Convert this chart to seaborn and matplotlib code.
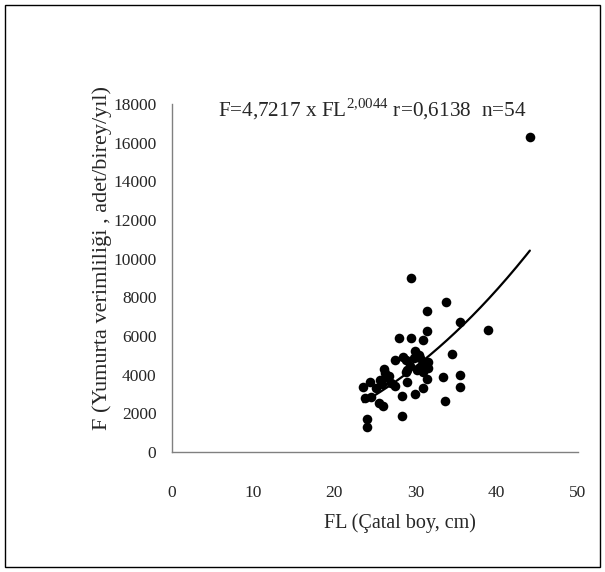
import numpy as np
import pandas as pd
import matplotlib
matplotlib.use("Agg")
import matplotlib.pyplot as plt
import seaborn as sns
from matplotlib.patches import Rectangle

# FL (fork length, cm) and F (fecundity)
fl = [44.1, 29.5, 33.8, 31.4, 35.5, 39.0, 31.4, 28.0, 29.5, 31.0,
      34.5, 30.0, 30.4, 28.5, 27.5, 29.8, 30.6, 31.5, 26.1, 29.0,
      30.6, 31.5, 26.5, 31.4, 33.4, 35.5, 35.5, 23.6, 24.4, 25.9,
      27.5, 29.0, 30.9, 30.0, 28.3, 23.8, 24.6, 25.5, 26.0, 33.7,
      28.4, 24.0, 24.0, 26.3, 28.8, 30.2, 25.6, 27.0, 29.3, 31.0,
      26.8, 30.8, 28.9, 25.2]
f = [16300, 9000, 7750, 7300, 6720, 6300, 6270, 5880, 5880, 5790,
     5050, 5240, 5020, 4900, 4760, 4880, 4850, 4670, 4300, 4240,
     4330, 4330, 3900, 3760, 3860, 3980, 3380, 3380, 3620, 3500,
     3420, 3600, 3290, 3000, 2880, 2780, 2860, 2550, 2380, 2650,
     1880, 1700, 1310, 4100, 4150, 4250, 3700, 3550, 4450, 4150,
     3950, 4450, 4750, 3300]

x_ticks = [0, 10, 20, 30, 40, 50]
y_ticks = list(range(0, 18001, 2000))

# power trendline as it is drawn in the picture (F = a * FL^b)
trend_a = 2.2
trend_b = 2.235

df = pd.DataFrame({"FL": fl, "F": f})
xs = np.linspace(df["FL"].min(), df["FL"].max(), 200)
trend = pd.DataFrame({"FL": xs, "F": trend_a * xs ** trend_b})

sns.set_style("white")
plt.rcParams["font.family"] = ["Liberation Serif", "DejaVu Serif"]
plt.rcParams["mathtext.fontset"] = "custom"
plt.rcParams["mathtext.rm"] = "Liberation Serif"

fig = plt.figure(figsize=(6.05, 5.72), dpi=100)
ax = fig.add_axes([0.2838, 0.2098, 0.6712, 0.6084])

sns.scatterplot(data=df, x="FL", y="F", color="black", s=48,
                edgecolor="black", linewidth=0, ax=ax, zorder=3)
sns.lineplot(data=trend, x="FL", y="F", color="black", linewidth=1.6,
             ax=ax, zorder=2)

ax.set_xlim(0, 50)
ax.set_ylim(0, 18000)
ax.set_xticks(x_ticks)
ax.set_yticks(y_ticks)
ax.tick_params(axis="both", direction="out", length=5, width=1,
               color="#808080", labelsize=12.5)
ax.tick_params(axis="y", pad=6)
ax.tick_params(axis="x", pad=19)
ax.set_xlabel("")
ax.set_ylabel("")
sns.despine(ax=ax)
for side in ["left", "bottom"]:
    ax.spines[side].set_color("#808080")
    ax.spines[side].set_linewidth(1)

fig.text(0.661, 0.0857, "FL (Çatal boy, cm)", ha="center", va="center",
         fontsize=14.5)
fig.text(0.169, 0.549, "F (Yumurta verimliliği , adet/birey/yıl)",
         ha="center", va="center", rotation=90, fontsize=16)
fig.text(0.361, 0.797,
         r"F=4,7217 x FL$^{\mathrm{2{,}0044}}$ r=0,6138  n=54",
         ha="left", va="baseline", fontsize=15.3)

# outer frame
fig.patches.append(Rectangle((0.008, 0.008), 0.984, 0.984,
                             transform=fig.transFigure, fill=False,
                             edgecolor="black", linewidth=1))

plt.savefig("out.png", dpi=100)
